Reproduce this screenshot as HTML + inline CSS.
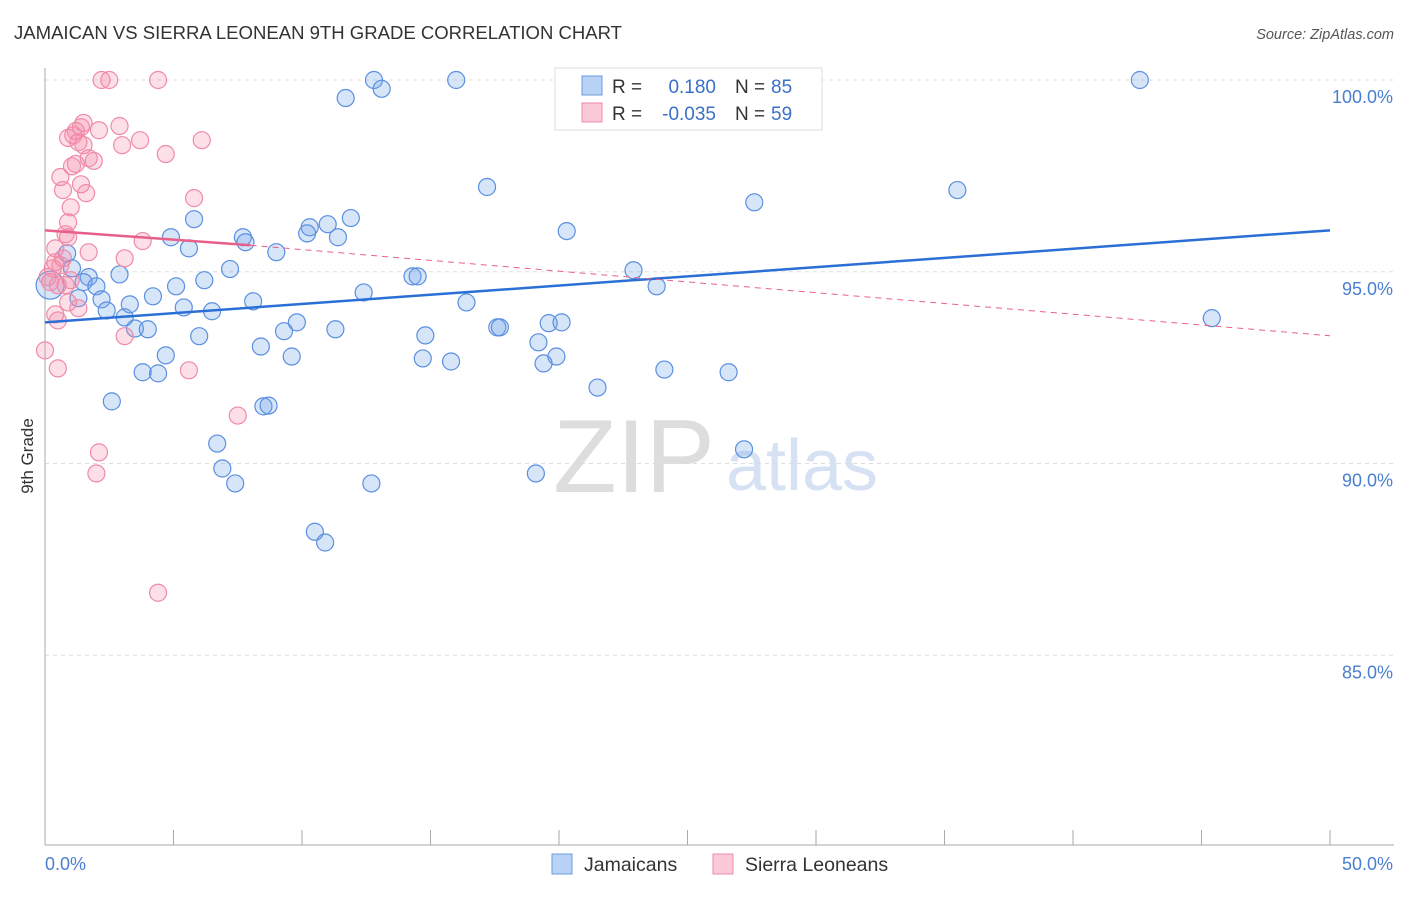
<!DOCTYPE html>
<html><head><meta charset="utf-8"><style>
body{margin:0;background:#fff;font-family:"Liberation Sans",sans-serif}
svg text{font-family:"Liberation Sans",sans-serif}
</style></head><body>
<svg id="chart" width="1406" height="892" xmlns="http://www.w3.org/2000/svg">
<text x="14" y="39" font-size="18" fill="#333" textLength="608" lengthAdjust="spacingAndGlyphs">JAMAICAN VS SIERRA LEONEAN 9TH GRADE CORRELATION CHART</text>
<text x="1394" y="39" font-size="14.5" fill="#555" text-anchor="end" font-style="italic">Source: ZipAtlas.com</text>
<text transform="translate(33,456) rotate(-90)" font-size="17" fill="#333" text-anchor="middle">9th Grade</text>
<g>
<text x="634" y="492" font-size="104" fill="#ddd" font-family="Liberation Serif" text-anchor="middle">ZIP</text>
<text x="802" y="490" font-size="72" fill="#d6e2f4" text-anchor="middle">atlas</text>
</g>
<g id="grid"></g>
<g id="axes"></g>
<g id="pts"></g>
<g id="trend"></g>
<g>
<rect x="555" y="68" width="267" height="62" fill="#fff" stroke="#ddd"/>
<rect x="582" y="76" width="20" height="19" fill="#b8d3f5" stroke="#6c9be0"/>
<rect x="582" y="103" width="20" height="19" fill="#fbc9d8" stroke="#f08aa8"/>
<text x="612" y="93" font-size="19" fill="#333">R =</text>
<text x="716" y="93" font-size="19" fill="#3a70c8" text-anchor="end">0.180</text>
<text x="735" y="93" font-size="19" fill="#333">N =</text>
<text x="771" y="93" font-size="19" fill="#3a70c8">85</text>
<text x="612" y="120" font-size="19" fill="#333">R =</text>
<text x="716" y="120" font-size="19" fill="#3a70c8" text-anchor="end">-0.035</text>
<text x="735" y="120" font-size="19" fill="#333">N =</text>
<text x="771" y="120" font-size="19" fill="#3a70c8">59</text>
</g>
<g>
<rect x="552" y="854" width="20" height="20" fill="#b8d3f5" stroke="#6c9be0"/>
<text x="584" y="871" font-size="19.5" fill="#333">Jamaicans</text>
<rect x="713" y="854" width="20" height="20" fill="#fbc9d8" stroke="#f08aa8"/>
<text x="745" y="871" font-size="19.5" fill="#333">Sierra Leoneans</text>
</g>
</svg>
<script>
const yTicks=[100,95,90,85];
const yTickLabels=["100.0%","95.0%","90.0%","85.0%"];
const xTickLabels=["0.0%","50.0%"];
const blueX=[12.8,16.0,26.5,42.6,11.7,13.1,17.2,35.5,27.6,5.8,11.9,11.0,10.3,10.2,7.7,7.8,11.4,20.3,4.9,5.6,9.0,0.86,1.05,2.9,1.7,7.2,22.9,14.3,14.5,6.2,1.5,2.0,5.1,23.8,12.4,4.2,2.2,1.3,3.3,5.4,8.1,16.4,2.4,6.5,3.1,9.8,3.5,4.0,9.3,11.3,19.6,20.1,17.6,17.7,6.0,14.8,45.4,8.4,19.2,4.7,9.6,19.9,14.7,15.8,19.4,3.8,4.4,24.1,26.6,21.5,2.6,8.5,8.7,6.7,27.2,6.9,19.1,7.4,12.7,10.5,10.9,0.2];
const blueY=[100,100,100,100,99.53,99.77,97.21,97.13,96.81,96.37,96.40,96.24,96.16,96.0,95.9,95.77,95.9,96.06,95.9,95.61,95.51,95.48,95.09,94.93,94.86,95.07,95.04,94.88,94.88,94.78,94.73,94.62,94.62,94.62,94.46,94.36,94.28,94.31,94.15,94.07,94.23,94.20,93.99,93.97,93.81,93.68,93.52,93.50,93.45,93.50,93.66,93.68,93.55,93.55,93.32,93.34,93.79,93.05,93.16,92.82,92.79,92.79,92.74,92.66,92.61,92.38,92.35,92.45,92.38,91.98,91.62,91.49,91.51,90.52,90.37,89.87,89.74,89.48,89.48,88.22,87.94,94.65];
const pinkX=[2.2,2.5,4.4,1.5,1.4,2.1,2.9,1.2,1.1,0.9,3.7,6.1,1.3,1.5,3.0,4.7,1.7,1.9,1.2,1.05,0.6,1.4,0.7,1.6,5.8,1.0,0.9,0.8,0.9,3.8,0.4,1.7,3.1,0.4,0.6,0.3,0.1,0.2,0.5,0.9,1.3,0.4,0.5,3.1,0,0.5,5.6,7.5,2.1,2.0,4.4,0.7,0.8,1.0];
const pinkY=[100,100,100,98.88,98.77,98.69,98.80,98.67,98.56,98.49,98.43,98.43,98.38,98.30,98.30,98.07,97.96,97.89,97.81,97.75,97.47,97.28,97.13,97.05,96.92,96.68,96.29,95.98,95.90,95.80,95.61,95.51,95.35,95.25,95.17,95.09,94.86,94.73,94.65,94.20,94.05,93.89,93.73,93.32,92.95,92.48,92.43,91.25,90.29,89.74,86.63,95.35,94.65,94.78];
const blueTrend=[[0,93.68],[50,96.08]];
const pinkTrend=[[0,96.08],[8,95.69],[50,93.33]];
const NS='http://www.w3.org/2000/svg';
const sx=v=>45+v*25.7, sy=v=>80+(100-v)*38.35;
function mk(tag,attrs,parent){const e=document.createElementNS(NS,tag);for(const k in attrs)e.setAttribute(k,attrs[k]);parent.appendChild(e);return e;}
const grid=document.getElementById('grid'),axes=document.getElementById('axes'),pts=document.getElementById('pts'),tr=document.getElementById('trend');
yTicks.forEach((t,i)=>{
 const l=mk('line',{x1:45,x2:1394,y1:sy(t),y2:sy(t),stroke:'#ddd','stroke-dasharray':'4,4'},grid);
 
 
 const tx=mk('text',{x:1393,y:sy(t)+23,'font-size':18,fill:'#4a7fd0','text-anchor':'end'},grid);
 tx.textContent=yTickLabels[i];
 
 
});
const ya=mk('line',{x1:45,x2:45,y1:68,y2:845,stroke:'#aaa'},axes);


const xa=mk('line',{x1:45,x2:1394,y1:845,y2:845,stroke:'#aaa'},axes);


for(let v=0;v<=50;v+=5){const t=mk('line',{x1:sx(v),x2:sx(v),y1:830,y2:845,stroke:'#aaa'},axes);
 
 }
[[0,'start',45],[50,'end',1393]].forEach((a,i)=>{const t=mk('text',{x:a[2],y:870,'font-size':18,fill:'#4a7fd0','text-anchor':a[1]},axes);t.textContent=xTickLabels[i];
 
 });
blueX.forEach((x,i)=>{const c=mk('circle',{cx:sx(x),cy:sy(blueY[i]),r:(i==blueX.length-1?14:8.5),fill:'rgba(110,160,235,0.28)',stroke:'#5b8fe0','stroke-width':1.2},pts);
 
 });
pinkX.forEach((x,i)=>{const c=mk('circle',{cx:sx(x),cy:sy(pinkY[i]),r:8.5,fill:'rgba(245,140,170,0.28)',stroke:'#f08aa8','stroke-width':1.2},pts);
 
 });
const bl=mk('line',{x1:sx(blueTrend[0][0]),y1:sy(blueTrend[0][1]),x2:sx(blueTrend[1][0]),y2:sy(blueTrend[1][1]),stroke:'#2a6fd6','stroke-width':2.5},tr);


const pl=mk('line',{x1:sx(pinkTrend[0][0]),y1:sy(pinkTrend[0][1]),x2:sx(pinkTrend[1][0]),y2:sy(pinkTrend[1][1]),stroke:'#e8608a','stroke-width':2.5},tr);


const pd=mk('line',{x1:sx(pinkTrend[1][0]),y1:sy(pinkTrend[1][1]),x2:sx(pinkTrend[2][0]),y2:sy(pinkTrend[2][1]),stroke:'#e8608a','stroke-width':1,'stroke-dasharray':'6,5'},tr);


</script>
</body></html>
